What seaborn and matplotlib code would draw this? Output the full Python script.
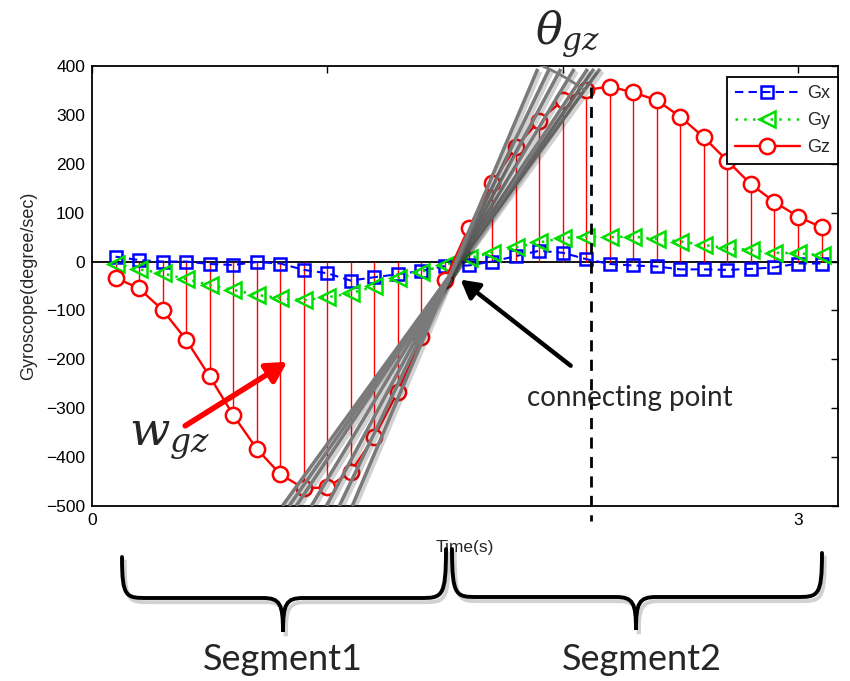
import matplotlib
matplotlib.use("Agg")
import numpy as np
import matplotlib.pyplot as plt
import matplotlib.patheffects as pe
from matplotlib.path import Path
from matplotlib.patches import PathPatch
import seaborn as sns

# sample times (s)
time_s = [0.1, 0.2, 0.3, 0.4, 0.5, 0.6, 0.7, 0.8, 0.9, 1.0,
          1.1, 1.2, 1.3, 1.4, 1.5, 1.6, 1.7, 1.8, 1.9, 2.0,
          2.1, 2.2, 2.3, 2.4, 2.5, 2.6, 2.7, 2.8, 2.9, 3.0, 3.1]

# gyroscope readings (degree/sec)
gx = [10, 3, 0, 0, -5, -7, -1, -4, -17, -24,
      -39, -32, -26, -19, -9, -8, 0, 11, 22, 18,
      5, -5, -8, -10, -16, -16, -17, -15, -12, -4, -4]
gy = [-4, -16, -24, -36, -48, -58, -68, -75, -79, -73,
      -65, -51, -34, -21, -7, 7, 18, 29, 39, 48,
      51, 50, 51, 46, 41, 34, 27, 24, 18, 17, 13]
gz = [-33, -55, -99, -160, -235, -314, -383, -435, -464, -462,
      -430, -358, -266, -154, -38, 68, 160, 234, 288, 330,
      351, 358, 346, 330, 296, 254, 206, 158, 122, 92, 70]

y_ticks = [-500, -400, -300, -200, -100, 0, 100, 200, 300, 400]
x_ticks = [0, 1, 2, 3]
x_tick_labels = ["0", "", "", "3"]

# fan of tangent lines around the connecting point
fan_pivot = (1.523, -27)
fan_bottom_t = [0.809, 0.838, 0.868, 0.932, 0.996, 1.051, 1.106]
fan_v = (-500, 394)
split_t = 2.12  # dashed line at Gz peak

sns.set_theme(style="white")
plt.rcParams["font.family"] = ["Liberation Sans", "DejaVu Sans"]
plt.rcParams["mathtext.fontset"] = "dejavuserif"

fig = plt.figure(figsize=(8.5, 6.81), dpi=100)
ax = fig.add_axes([92 / 850, 1 - 506 / 681, 746 / 850, 440 / 681])

ax.axhline(0, color="black", lw=1.3, zorder=1)
ax.vlines(time_s, 0, gz, color="red", lw=1, zorder=1.5)

sns.lineplot(x=time_s, y=gx, ax=ax, color="blue", linestyle=(0, (4, 2.5)), lw=1.5,
             marker="s", markersize=9, markerfacecolor="none",
             markeredgecolor="blue", markeredgewidth=1.8, label="Gx", zorder=3)
sns.lineplot(x=time_s, y=gy, ax=ax, color="#00dd00", linestyle=(0, (1, 2.5)), lw=1.8,
             marker="<", markersize=11, markerfacecolor="none",
             markeredgecolor="#00dd00", markeredgewidth=1.8, label="Gy", zorder=3)
sns.lineplot(x=time_s, y=gz, ax=ax, color="red", linestyle="-", lw=1.7,
             marker="o", markersize=11, markerfacecolor="white",
             markeredgecolor="red", markeredgewidth=1.8, label="Gz", zorder=4)

ax.set_xlim(0, 3.17)
ax.set_ylim(-500, 400)
ax.set_xticks(x_ticks)
ax.set_xticklabels(x_tick_labels)
ax.set_yticks(y_ticks)
ax.tick_params(direction="in", top=True, right=True, length=5, width=1,
               labelsize=12.5, colors="black", pad=5)
for s in ax.spines.values():
    s.set_color("black")
    s.set_linewidth(1.3)

ax.set_xlabel("Time(s)", fontsize=12.5, labelpad=9)
ax.set_ylabel("Gyroscope(degree/sec)", fontsize=13, labelpad=6)

# gray fan
shadow = [pe.SimpleLineShadow(offset=(2, -2), alpha=0.2), pe.Normal()]
px, pv = fan_pivot
for tb in fan_bottom_t:
    k = (px - tb) / (pv - fan_v[0])
    tt = px + k * (fan_v[1] - pv)
    ax.plot([tb, tt], fan_v, color="#7a7a7a", lw=2.6, zorder=5,
            solid_capstyle="butt", path_effects=shadow)

# arc near the top of the fan
p0 = ax.transData.transform(fan_pivot)
ends = [ax.transData.transform((px + (px - tb) / (pv - fan_v[0]) * (fan_v[1] - pv), fan_v[1]))
        for tb in fan_bottom_t]
angs = [np.arctan2(e[1] - p0[1], e[0] - p0[0]) for e in ends]
rad = 0.95 * np.hypot(*(ends[3] - p0))
aa = np.linspace(min(angs), max(angs), 40)
arc_disp = np.column_stack([p0[0] + rad * np.cos(aa), p0[1] + rad * np.sin(aa)])
arc_data = ax.transData.inverted().transform(arc_disp)
ax.plot(arc_data[:, 0], arc_data[:, 1], color="#7a7a7a", lw=2, zorder=5)

# dashed split line
ax.plot([split_t, split_t], [357, -530], color="black", lw=2,
        linestyle=(0, (4, 3)), zorder=6, clip_on=False)

# arrows
ax.annotate("", xy=(0.83, -205), xytext=(0.396, -336),
            arrowprops=dict(arrowstyle="-|>,head_width=0.55,head_length=1.0",
                            color="red", lw=4, shrinkA=0, shrinkB=0), zorder=7)
ax.annotate("", xy=(1.566, -37), xytext=(2.034, -213),
            arrowprops=dict(arrowstyle="-|>,head_width=0.5,head_length=0.9",
                            color="black", lw=3.2, shrinkA=0, shrinkB=0), zorder=7)

ann_font = ["Lato", "DejaVu Sans"]
ax.text(2.285, -279, "connecting point", fontsize=20, family=ann_font,
        ha="center", va="center", zorder=7)
ax.text(0.33, -362, r"$w_{gz}$", fontsize=34, ha="center", va="center", zorder=7)
fig.text(568 / 850, 1 - 34 / 681, r"$\theta_{gz}$", fontsize=32, ha="center", va="center")

leg = ax.legend(loc="upper right", bbox_to_anchor=(1.0, 0.975), borderaxespad=0,
                fancybox=False, edgecolor="black", framealpha=1, fontsize=13,
                handlelength=3.6, labelspacing=0.55, borderpad=0.45, handletextpad=0.4)
leg.get_frame().set_linewidth(1.3)


# braces below the axes (figure pixel coordinates)
def brace(x0, x1, xm, ytop0, ytop1, ymid, ytip):
    verts = [(x0, ytop0), (x0, ymid), (x0 + 4, ymid), (x0 + 26, ymid),
             (xm - 20, ymid), (xm - 3, ymid), (xm, ymid + 6), (xm, ytip),
             (xm, ymid + 6), (xm + 3, ymid), (xm + 20, ymid),
             (x1 - 26, ymid), (x1 - 4, ymid), (x1, ymid), (x1, ytop1)]
    codes = [Path.MOVETO, Path.CURVE4, Path.CURVE4, Path.CURVE4,
             Path.LINETO, Path.CURVE4, Path.CURVE4, Path.CURVE4,
             Path.CURVE4, Path.CURVE4, Path.CURVE4,
             Path.LINETO, Path.CURVE4, Path.CURVE4, Path.CURVE4]
    verts = [(x / 850, 1 - y / 681) for x, y in verts]
    patch = PathPatch(Path(verts, codes), transform=fig.transFigure, fill=False,
                      lw=2.8, edgecolor="black", capstyle="round",
                      path_effects=[pe.SimpleLineShadow(offset=(2, -3), alpha=0.2), pe.Normal()])
    fig.add_artist(patch)


brace(122, 446, 283, 557, 549, 598, 632)
brace(452, 822, 636, 549, 553, 597, 630)

fig.text(283 / 850, 1 - 660 / 681, "Segment1", fontsize=26, family=ann_font,
         ha="center", va="center")
fig.text(642 / 850, 1 - 660 / 681, "Segment2", fontsize=26, family=ann_font,
         ha="center", va="center")

fig.savefig("out.png", dpi=100)
